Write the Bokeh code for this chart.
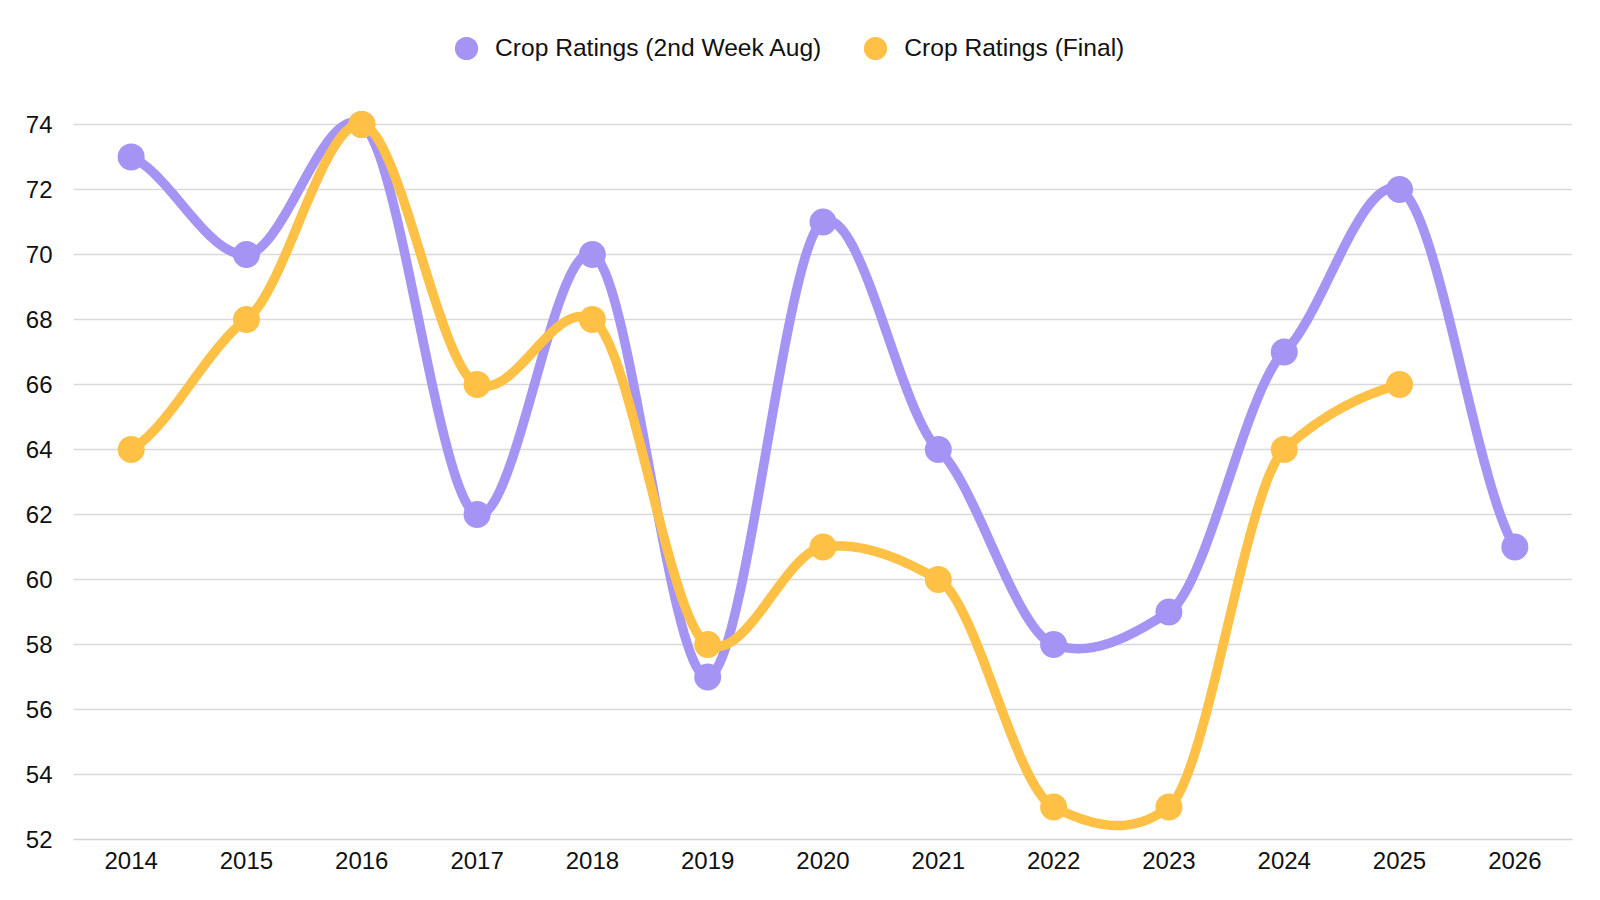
import numpy as np
from bokeh.plotting import figure
from bokeh.models import FixedTicker, Range1d, Legend, LegendItem
from bokeh.embed import file_html
from bokeh.resources import INLINE

# ---- data ----
years = [2014, 2015, 2016, 2017, 2018, 2019, 2020, 2021, 2022, 2023, 2024, 2025, 2026]
aug_ratings = [73, 70, 74, 62, 70, 57, 71, 64, 58, 59, 67, 72, 61]
final_years = [2014, 2015, 2016, 2017, 2018, 2019, 2020, 2021, 2022, 2023, 2024, 2025]
final_ratings = [64, 68, 74, 66, 68, 58, 61, 60, 53, 53, 64, 66]
y_ticks = [52, 54, 56, 58, 60, 62, 64, 66, 68, 70, 72, 74]

AUG_NAME = "Crop Ratings (2nd Week Aug)"
FINAL_NAME = "Crop Ratings (Final)"
PURPLE = "#A594F4"
ORANGE = "#FFC145"
FONT = "Liberation Sans"


def cardinal(xs, ys, s=0.5, n=40):
    """Cardinal spline through the data points (rendering only)."""
    xs = np.asarray(xs, float)
    ys = np.asarray(ys, float)
    m = len(xs)
    ty = np.zeros(m)
    for i in range(m):
        a = max(i - 1, 0)
        b = min(i + 1, m - 1)
        ty[i] = s * (ys[b] - ys[a]) / (xs[b] - xs[a])
    t = np.linspace(0, 1, n)
    h00 = 2 * t**3 - 3 * t**2 + 1
    h10 = t**3 - 2 * t**2 + t
    h01 = -2 * t**3 + 3 * t**2
    h11 = t**3 - t**2
    ox, oy = [], []
    for i in range(m - 1):
        dx = xs[i + 1] - xs[i]
        px = xs[i] + dx * t
        py = h00 * ys[i] + h10 * ty[i] * dx + h01 * ys[i + 1] + h11 * ty[i + 1] * dx
        ox.extend(px if i == 0 else px[1:])
        oy.extend(py if i == 0 else py[1:])
    return ox, oy


p = figure(
    width=1584, height=884,
    output_backend="svg", toolbar_location=None,
    x_range=Range1d(2013.5, 2026.5),
    y_range=Range1d(52, 77.32),
    min_border_left=73, min_border_right=12,
    min_border_top=16, min_border_bottom=45,
)
p.outline_line_color = None
p.background_fill_color = "white"
p.border_fill_color = "white"

# axes
p.xaxis.ticker = FixedTicker(ticks=years)
p.yaxis.ticker = FixedTicker(ticks=y_ticks)
for ax in (p.xaxis, p.yaxis):
    ax.major_tick_line_color = None
    ax.minor_tick_line_color = None
    ax.major_label_text_font = FONT
    ax.major_label_text_font_size = "24px"
    ax.major_label_text_color = "#111111"
p.yaxis.axis_line_color = None
p.xaxis.axis_line_color = "#d4d4d4"
p.xaxis.axis_line_width = 1.5
p.xaxis.major_label_standoff = 6
p.yaxis.major_label_standoff = 15

p.xgrid.grid_line_color = None
p.ygrid.grid_line_color = "#d9d9d9"
p.ygrid.grid_line_width = 1.5

# purple series
ax_, ay_ = cardinal(years, aug_ratings)
p.line(ax_, ay_, line_color=PURPLE, line_width=9.5, line_cap="round", line_join="round")
r_aug = p.scatter(years, aug_ratings, size=27, fill_color=PURPLE, line_color=PURPLE, line_width=0)

# orange series
fx_, fy_ = cardinal(final_years, final_ratings)
p.line(fx_, fy_, line_color=ORANGE, line_width=9.5, line_cap="round", line_join="round")
r_fin = p.scatter(final_years, final_ratings, size=27, fill_color=ORANGE, line_color=ORANGE, line_width=0)

legend = Legend(
    items=[LegendItem(label=AUG_NAME, renderers=[r_aug]),
           LegendItem(label=FINAL_NAME, renderers=[r_fin])],
    orientation="horizontal",
    location=(364, 762),
    glyph_width=58, glyph_height=58,
    label_standoff=0, spacing=25,
    padding=0, margin=0,
    border_line_color=None, background_fill_alpha=0,
    label_text_font=FONT, label_text_font_size="24.6px", label_text_color="#111111",
)
p.add_layout(legend)

open("out.html", "w").write(file_html(p, INLINE))
